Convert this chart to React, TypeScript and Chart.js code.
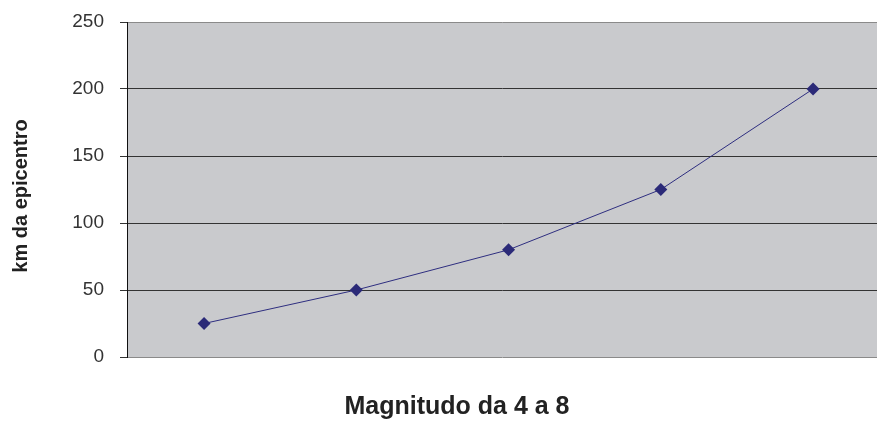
import React, { useEffect, useRef } from "react";
import { Chart, registerables } from "chart.js";

Chart.register(...registerables);

const categories = ["4", "5", "6", "7", "8"];
const distances = [25, 50, 80, 125, 200];
const yMin = 0;
const yMax = 250;
const yStep = 50;
const xTitle = "Magnitudo da 4 a 8";
const yTitle = "km da epicentro";

const titleFont = "bold 25px 'Liberation Sans Narrow', 'Liberation Sans', Arial";
const yTitleFont = "bold 20px 'Liberation Sans Narrow', 'Liberation Sans', Arial";

const plotBg = {
  id: "plotBg",
  beforeDraw(chart: any) {
    const { ctx, chartArea } = chart;
    ctx.save();
    ctx.fillStyle = "#c9cacd";
    ctx.fillRect(chartArea.left, chartArea.top, chartArea.right - chartArea.left, chartArea.bottom - chartArea.top);
    ctx.restore();
  },
  afterDraw(chart: any) {
    const { ctx } = chart;
    ctx.save();
    ctx.fillStyle = "#222";
    ctx.textAlign = "center";
    ctx.textBaseline = "middle";
    ctx.font = titleFont;
    ctx.fillText(xTitle, 457, 407);
    ctx.translate(21, 196);
    ctx.rotate(-Math.PI / 2);
    ctx.font = yTitleFont;
    ctx.fillText(yTitle, 0, 0);
    ctx.restore();
  },
};

export default function App() {
  const ref = useRef<HTMLCanvasElement>(null);
  useEffect(() => {
    document.body.style.margin = "0";
    const points = categories.map((_, i) => ({ x: i, y: distances[i] }));
    const chart = new Chart(ref.current!, {
      type: "line",
      data: {
        datasets: [
          {
            data: points,
            borderColor: "#2e2e80",
            borderWidth: 1,
            pointStyle: "rectRot",
            pointRadius: 6.5,
            pointBackgroundColor: "#2b2a78",
            pointBorderColor: "#2b2a78",
            pointBorderWidth: 0,
            tension: 0,
            clip: false,
          },
        ],
      },
      plugins: [plotBg],
      options: {
        animation: false,
        responsive: false,
        maintainAspectRatio: false,
        layout: { autoPadding: false, padding: { top: 22, right: 0, left: 0, bottom: 0 } },
        plugins: { legend: { display: false }, tooltip: { enabled: false } },
        scales: {
          x: {
            type: "linear",
            min: -0.506,
            max: 4.42,
            grid: { display: false, drawTicks: false },
            border: { display: false },
            ticks: { display: false },
            afterFit(scale: any) {
              scale.height = 64;
              scale.paddingLeft = 0;
              scale.paddingRight = 0;
            },
          },
          y: {
            min: yMin,
            max: yMax,
            ticks: {
              stepSize: yStep,
              padding: 16,
              color: "#333",
              font: { family: "'Liberation Sans', Arial", size: 19 },
            },
            grid: {
              color: (c: any) => (c.tick && (c.tick.value === yMax || c.tick.value === yMin) ? "#8a8a8a" : "#333"),
              tickColor: "#333",
              tickLength: 7,
              lineWidth: 1,
            },
            border: { display: true, color: "#111", width: 1 },
            afterFit(scale: any) {
              scale.width = 127;
              scale.paddingTop = 0;
              scale.paddingBottom = 0;
            },
          },
        },
      },
    } as any);
    return () => chart.destroy();
  }, []);
  return (
    <div style={{ position: "fixed", left: 0, top: 0, width: 877, height: 421 }}>
      <canvas ref={ref} width={877} height={421} style={{ width: 877, height: 421 }} />
    </div>
  );
}
